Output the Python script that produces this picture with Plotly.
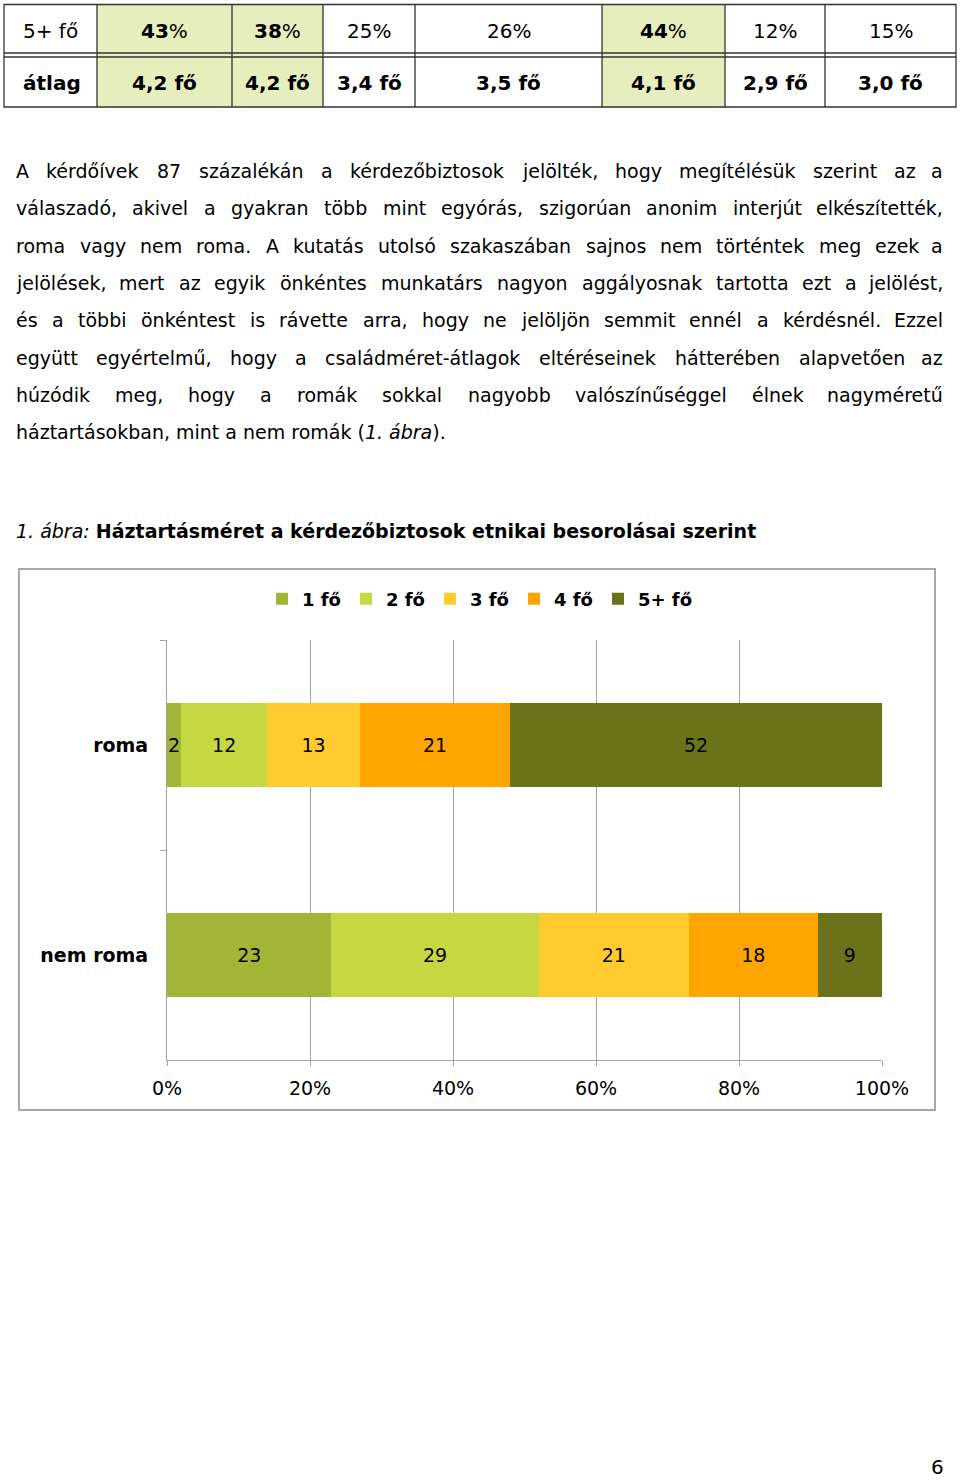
import plotly.graph_objects as go

W, H = 960, 1480
FONT = "DejaVu Sans"

# ---------------- data ----------------
table_row_labels = ["5+ fő", "átlag"]
share_5plus = ["43", "38", "25", "26", "44", "12", "15"]
avg_size = ["4,2", "4,2", "3,4", "3,5", "4,1", "2,9", "3,0"]
highlight_cols = [0, 1, 4]

paragraph_lines = [
    "A kérdőívek 87 százalékán a kérdezőbiztosok jelölték, hogy megítélésük szerint az a",
    "válaszadó, akivel a gyakran több mint egyórás, szigorúan anonim interjút elkészítették,",
    "roma vagy nem roma. A kutatás utolsó szakaszában sajnos nem történtek meg ezek a",
    "jelölések, mert az egyik önkéntes munkatárs nagyon aggályosnak tartotta ezt a jelölést,",
    "és a többi önkéntest is rávette arra, hogy ne jelöljön semmit ennél a kérdésnél. Ezzel",
    "együtt egyértelmű, hogy a családméret-átlagok eltéréseinek hátterében alapvetően az",
    "húzódik meg, hogy a romák sokkal nagyobb valószínűséggel élnek nagyméretű",
]
last_line = "háztartásokban, mint a nem romák (<i>1. ábra</i>)."

caption_num = "1. ábra:"
caption_title = "Háztartásméret a kérdezőbiztosok etnikai besorolásai szerint"

categories = ["roma", "nem roma"]
series_names = ["1 fő", "2 fő", "3 fő", "4 fő", "5+ fő"]
roma_values = [2, 12, 13, 21, 52]
nem_roma_values = [23, 29, 21, 18, 9]
series_colors = ["#A2B536", "#C6D841", "#FFCB2E", "#FFA502", "#6A7319"]
x_ticks = [0, 20, 40, 60, 80, 100]
page_number = "6"

# ---------------- helpers ----------------
def px(x):
    return x / W


def py(y):
    return 1 - y / H


# approximate DejaVu Sans advance widths (units per em = 2048)
_w = {
    " ": 651, "a": 1255, "b": 1300, "c": 1126, "d": 1300, "e": 1260, "f": 721,
    "g": 1300, "h": 1298, "i": 569, "j": 569, "k": 1186, "l": 569, "m": 1995,
    "n": 1298, "o": 1253, "p": 1300, "q": 1300, "r": 842, "s": 1067, "t": 803,
    "u": 1298, "v": 1212, "w": 1675, "x": 1212, "y": 1212, "z": 1075,
    "A": 1401, "E": 1294, ",": 651, ".": 651, "(": 799, ")": 799, "-": 739,
    ":": 690, "%": 1946,
}
_base = {"á": "a", "é": "e", "í": "i", "ó": "o", "ö": "o", "ő": "o",
         "ú": "u", "ü": "u", "ű": "u"}


def text_width(s, size):
    tot = 0
    for ch in s:
        ch = _base.get(ch, ch)
        if ch.isdigit():
            tot += 1303
        else:
            tot += _w.get(ch, 1250)
    return tot / 2048 * size


fig = go.Figure()

# ---------------- chart ----------------
for i, name in enumerate(series_names):
    vals = [roma_values[i], nem_roma_values[i]]
    fig.add_trace(go.Bar(
        y=categories, x=vals, name=name, orientation="h",
        marker=dict(color=series_colors[i], line=dict(width=0)),
        text=[str(v) for v in vals], textposition="inside",
        insidetextanchor="middle", textangle=0, constraintext="none",
        textfont=dict(family=FONT, size=19, color="black"),
        cliponaxis=False, hoverinfo="skip",
    ))

fig.update_layout(
    barmode="stack", bargap=0.6,
    width=W, height=H, autosize=False,
    margin=dict(l=0, r=0, t=0, b=0, pad=0, autoexpand=False),
    paper_bgcolor="white", plot_bgcolor="white",
    font=dict(family=FONT, color="black"),
    showlegend=True,
    legend=dict(orientation="h", x=0.5, xanchor="center", y=py(599), yanchor="middle",
                font=dict(family=FONT, size=18, color="black", weight="bold"),
                itemwidth=30, traceorder="normal", bgcolor="rgba(0,0,0,0)"),
    xaxis=dict(domain=[px(167), px(882)], range=[0, 100], tickvals=x_ticks,
               ticktext=[f"{v}%" for v in x_ticks], showgrid=True,
               gridcolor="#A3A3A3", gridwidth=1, zeroline=False,
               showline=True, linecolor="#A3A3A3", linewidth=1,
               ticks="outside", ticklen=5, tickcolor="#A3A3A3",
               tickfont=dict(family=FONT, size=19, color="black"),
               ticklabelstandoff=6, automargin=False, fixedrange=True),
    yaxis=dict(domain=[py(1060), py(640)], categoryorder="array",
               categoryarray=categories, autorange="reversed",
               showgrid=False, zeroline=False, showline=True,
               linecolor="#A3A3A3", linewidth=1, ticks="outside",
               tickson="boundaries", ticklen=6, tickcolor="#A3A3A3",
               tickfont=dict(family=FONT, size=19, color="black", weight="bold"),
               ticklabelstandoff=14, automargin=False, fixedrange=True),
)

shapes = []
annotations = []

# chart frame
shapes.append(dict(type="rect", xref="paper", yref="paper",
                   x0=px(19), x1=px(935), y0=py(1110), y1=py(569),
                   line=dict(color="#A8A8A8", width=2), layer="below"))

# ---------------- table ----------------
col_edges = [4, 97, 232, 323, 415, 602, 725, 825, 956]
t_top, t_mid1, t_mid2, t_bot = 4.5, 53, 57, 107
for c in highlight_cols:
    shapes.append(dict(type="rect", xref="paper", yref="paper",
                       x0=px(col_edges[c + 1]), x1=px(col_edges[c + 2]),
                       y0=py(t_bot), y1=py(t_top),
                       fillcolor="#E6EEBD", line=dict(width=0), layer="below"))
line_style = dict(color="#333333", width=1.3)
shapes.append(dict(type="rect", xref="paper", yref="paper",
                   x0=px(col_edges[0]), x1=px(col_edges[-1]), y0=py(t_bot), y1=py(t_top),
                   line=line_style))
for xe in col_edges[1:-1]:
    shapes.append(dict(type="line", xref="paper", yref="paper",
                       x0=px(xe), x1=px(xe), y0=py(t_bot), y1=py(t_top), line=line_style))
for ye in (t_mid1, t_mid2):
    shapes.append(dict(type="line", xref="paper", yref="paper",
                       x0=px(col_edges[0]), x1=px(col_edges[-1]), y0=py(ye), y1=py(ye),
                       line=line_style))

row_y = [31, 83]
annotations.append(dict(text=table_row_labels[0], x=px(22), y=py(row_y[0]),
                        xanchor="left", yanchor="middle", font=dict(size=20)))
annotations.append(dict(text="<b>" + table_row_labels[1] + "</b>", x=px(22), y=py(row_y[1]),
                        xanchor="left", yanchor="middle", font=dict(size=20)))
for i in range(len(share_5plus)):
    cx = (col_edges[i + 1] + col_edges[i + 2]) / 2
    if i in highlight_cols:
        t1 = f"<b>{share_5plus[i]}</b>%"
    else:
        t1 = f"{share_5plus[i]}%"
    annotations.append(dict(text=t1, x=px(cx), y=py(row_y[0]), xanchor="center",
                            yanchor="middle", font=dict(size=20)))
    annotations.append(dict(text=f"<b>{avg_size[i]} fő</b>", x=px(cx), y=py(row_y[1]),
                            xanchor="center", yanchor="middle", font=dict(size=20)))

# ---------------- paragraph (justified) ----------------
FS = 19
left, right = 15, 944
line_y = [171, 208, 246, 283, 320, 358, 395]
for li, line in enumerate(paragraph_lines):
    words = line.split(" ")
    widths = [text_width(w, FS) for w in words]
    gap = max(3, (right - left - sum(widths)) / (len(words) - 1))
    x = left
    for wi, w in enumerate(words):
        if wi == len(words) - 1:
            annotations.append(dict(text=w, x=px(right), y=py(line_y[li]),
                                    xanchor="right", yanchor="middle",
                                    font=dict(size=FS)))
        else:
            annotations.append(dict(text=w, x=px(x), y=py(line_y[li]),
                                    xanchor="left", yanchor="middle",
                                    font=dict(size=FS)))
        x += widths[wi] + gap
annotations.append(dict(text=last_line, x=px(left), y=py(432), xanchor="left",
                        yanchor="middle", font=dict(size=FS)))

# caption
annotations.append(dict(text=f"<i>{caption_num}</i> <b>{caption_title}</b>",
                        x=px(left), y=py(531), xanchor="left", yanchor="middle",
                        font=dict(size=FS)))

# page number
annotations.append(dict(text=page_number, x=px(937), y=py(1467), xanchor="center",
                        yanchor="middle", font=dict(size=20)))

for a in annotations:
    a.update(xref="paper", yref="paper", showarrow=False, borderpad=0)
    a["font"] = dict(family=FONT, color="black", **a.get("font", {}))

fig.update_layout(shapes=shapes, annotations=annotations)

fig.write_html(
    "out.html",
    config={"displayModeBar": False, "staticPlot": True},
    post_script="document.body.style.margin='0';document.body.style.overflow='hidden';",
)
